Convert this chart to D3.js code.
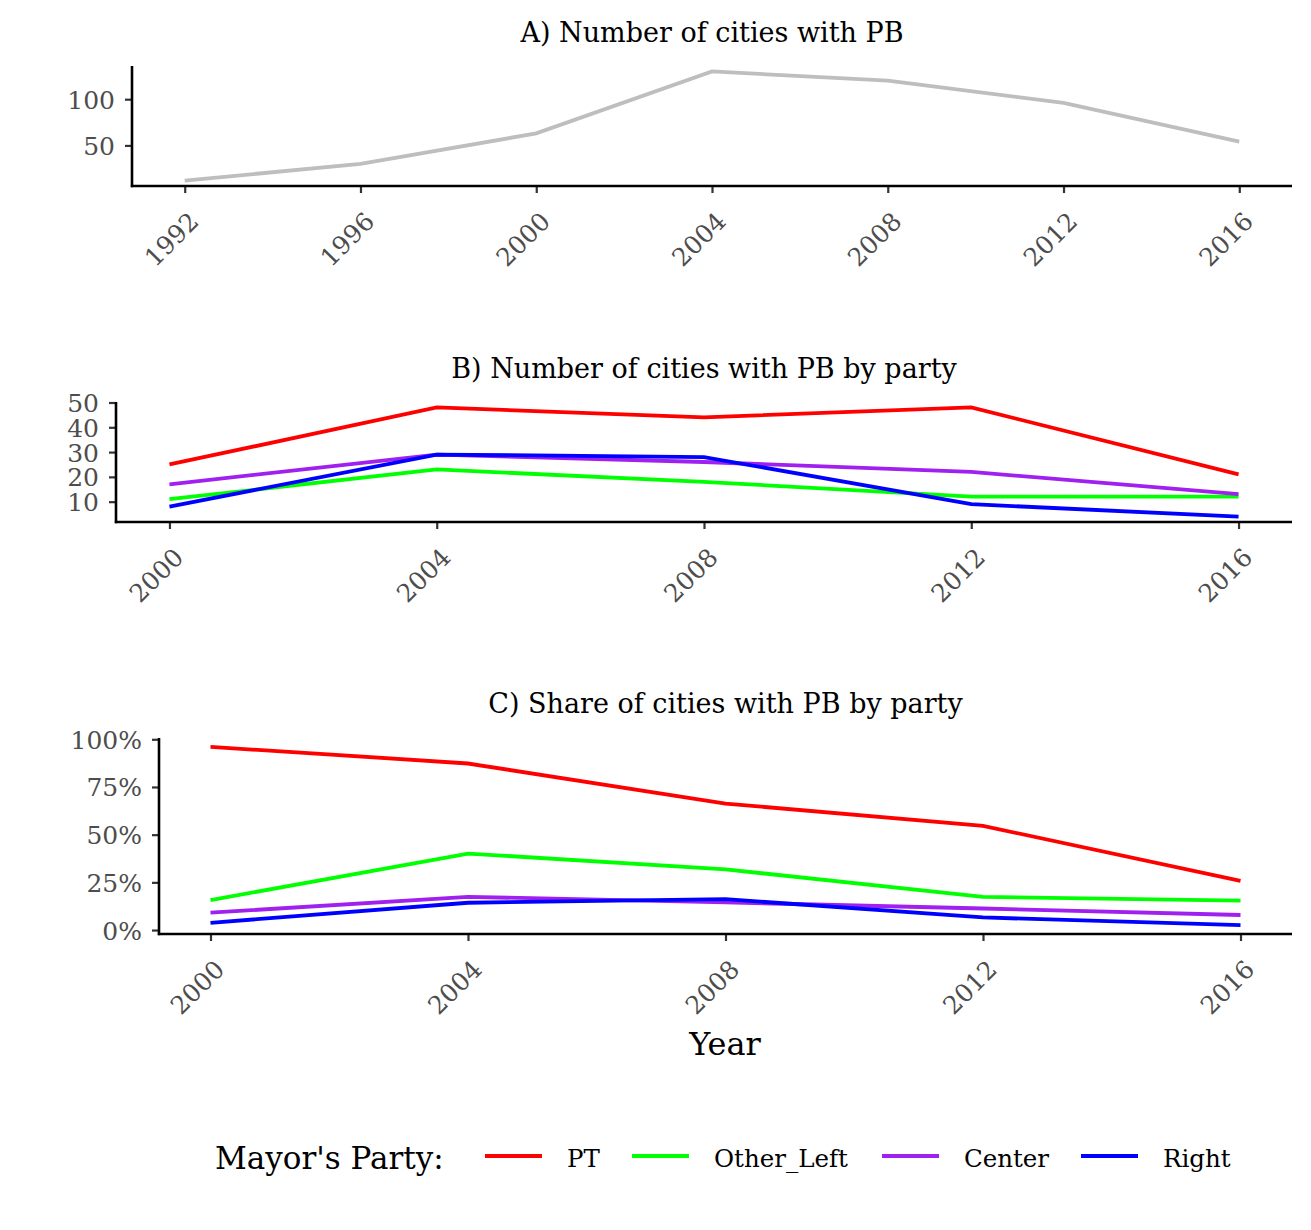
<!DOCTYPE html>
<html>
<head>
<meta charset="utf-8">
<script src="https://cdn.jsdelivr.net/npm/d3@7"></script>
<style>
  body { margin: 0; background: #fff; }
  svg text { font-family: "DejaVu Serif", "Liberation Serif", serif; }
</style>
</head>
<body>
<svg id="chart" width="1311" height="1230"></svg>
<script>
// panel A: total number of cities with PB
const yearsA = [1992, 1996, 2000, 2004, 2008, 2012, 2016];
const totalA = [12, 30, 63, 130, 120, 96, 54];

// panels B and C: by mayor's party
const yearsBC = [2000, 2004, 2008, 2012, 2016];
const parties = ['PT', 'Other_Left', 'Center', 'Right'];
const partyColors = ['#ff0000', '#00ff00', '#a020f0', '#0000ff'];

const countPT = [25, 48, 44, 48, 21];
const countOtherLeft = [11, 23, 18, 12, 12];
const countCenter = [17, 29, 26, 22, 13];
const countRight = [8, 29, 28, 9, 4];

const sharePT = [0.96, 0.873, 0.663, 0.546, 0.258];
const shareOtherLeft = [0.157, 0.401, 0.318, 0.174, 0.154];
const shareCenter = [0.091, 0.174, 0.145, 0.113, 0.079];
const shareRight = [0.038, 0.143, 0.162, 0.066, 0.026];

const ticksA = [50, 100];
const ticksB = [10, 20, 30, 40, 50];
const ticksC = [0, 0.25, 0.5, 0.75, 1];

const svg = d3.select('#chart');

function expand(ext, mult) {
  const pad = (ext[1] - ext[0]) * mult;
  return [ext[0] - pad, ext[1] + pad];
}

function drawPanel(opt) {
  const g = svg.append('g');
  const allVals = opt.series.flatMap(s => s.values);

  const x = d3.scaleLinear()
    .domain(expand(d3.extent(opt.years), 0.05))
    .range([opt.left, opt.right]);
  const y = d3.scaleLinear()
    .domain(expand(d3.extent(allVals), 0.05))
    .range([opt.bottom, opt.top]);

  g.append('text')
    .attr('x', (opt.left + opt.right) / 2)
    .attr('y', opt.titleY)
    .attr('text-anchor', 'middle')
    .attr('font-size', 27)
    .attr('fill', '#000')
    .text(opt.title);

  const line = d3.line()
    .x((d, i) => x(opt.years[i]))
    .y(d => y(d));

  opt.series.forEach(s => {
    g.append('path')
      .datum(s.values)
      .attr('d', line)
      .attr('fill', 'none')
      .attr('stroke', s.color)
      .attr('stroke-width', 3.8);
  });

  // y axis
  const yAxis = g.append('g')
    .attr('transform', `translate(${opt.left},0)`)
    .call(d3.axisLeft(y).tickValues(opt.yTicks).tickFormat(opt.yFormat).tickSize(7).tickPadding(10));
  // x axis
  const xAxis = g.append('g')
    .attr('transform', `translate(0,${opt.bottom})`)
    .call(d3.axisBottom(x).tickValues(opt.years).tickFormat(d3.format('d')).tickSize(7));

  [yAxis, xAxis].forEach(a => {
    a.select('.domain').remove();
    a.selectAll('.tick line').attr('stroke', '#333').attr('stroke-width', 2.2);
    a.selectAll('.tick text').attr('fill', '#4d4d4d').attr('font-size', 25);
  });

  yAxis.selectAll('.tick text').attr('dy', '0.36em');

  xAxis.selectAll('.tick text')
    .attr('text-anchor', 'end')
    .attr('y', 0)
    .attr('dy', 0)
    .attr('transform', 'translate(15,37) rotate(-45)');

  // axis lines
  g.append('line')
    .attr('x1', opt.left).attr('x2', opt.left)
    .attr('y1', opt.top).attr('y2', opt.bottom + 1.2)
    .attr('stroke', '#000').attr('stroke-width', 2.6);
  g.append('line')
    .attr('x1', opt.left - 1.2).attr('x2', opt.right)
    .attr('y1', opt.bottom).attr('y2', opt.bottom)
    .attr('stroke', '#000').attr('stroke-width', 2.6);
}

drawPanel({
  title: 'A) Number of cities with PB',
  titleY: 42,
  left: 132, right: 1292, top: 66, bottom: 186,
  years: yearsA,
  series: [{ values: totalA, color: '#bebebe' }],
  yTicks: ticksA, yFormat: d3.format('d')
});

drawPanel({
  title: 'B) Number of cities with PB by party',
  titleY: 378,
  left: 116, right: 1292, top: 402, bottom: 522,
  years: yearsBC,
  series: [
    { values: countPT, color: partyColors[0] },
    { values: countOtherLeft, color: partyColors[1] },
    { values: countCenter, color: partyColors[2] },
    { values: countRight, color: partyColors[3] }
  ],
  yTicks: ticksB, yFormat: d3.format('d')
});

drawPanel({
  title: 'C) Share of cities with PB by party',
  titleY: 713,
  left: 159, right: 1292, top: 738, bottom: 934,
  years: yearsBC,
  series: [
    { values: sharePT, color: partyColors[0] },
    { values: shareOtherLeft, color: partyColors[1] },
    { values: shareCenter, color: partyColors[2] },
    { values: shareRight, color: partyColors[3] }
  ],
  yTicks: ticksC, yFormat: d3.format('.0%')
});

// x axis title
svg.append('text')
  .attr('x', 725)
  .attr('y', 1055)
  .attr('text-anchor', 'middle')
  .attr('font-size', 32)
  .attr('fill', '#000')
  .text('Year');

// legend
const legend = svg.append('g').attr('transform', 'translate(0,1158)');
legend.append('text')
  .attr('x', 215)
  .attr('y', 11)
  .attr('font-size', 31)
  .attr('fill', '#000')
  .text("Mayor's Party:");

const keyX = [485, 632, 882, 1081];
parties.forEach((p, i) => {
  legend.append('line')
    .attr('x1', keyX[i]).attr('x2', keyX[i] + 57)
    .attr('y1', -2).attr('y2', -2)
    .attr('stroke', partyColors[i])
    .attr('stroke-width', 3.8);
  legend.append('text')
    .attr('x', keyX[i] + 82)
    .attr('y', 9)
    .attr('font-size', 24.5)
    .attr('fill', '#000')
    .text(p);
});
</script>
</body>
</html>
